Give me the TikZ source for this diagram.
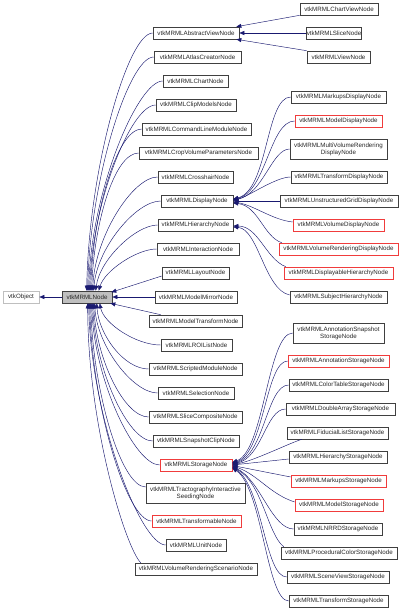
\documentclass[tikz,border=0pt]{standalone}
\usepackage{fontspec}
\setmainfont{Liberation Sans}
\usetikzlibrary{arrows.meta}
\definecolor{edgec}{HTML}{191970}
\definecolor{boxc}{HTML}{404040}
\definecolor{redc}{HTML}{F03C3C}
\definecolor{grayfill}{HTML}{BFBFBF}
\tikzset{
  box/.style={draw=boxc, line width=0.6pt, inner sep=0pt, font=\fontsize{6.2}{7}\selectfont, align=center, text=black!85},
  redbox/.style={box, draw=redc},
  graybox/.style={box, draw=grayfill},
  basebox/.style={box, fill=grayfill},
  edge/.style={draw=edgec, line width=0.45pt, -{Triangle[length=5pt,width=4pt]}},
}
\newcommand\bx[7]{\node[#7, minimum width={(#4-#2)*1pt}, minimum height={(#5-#3)*1pt}] (#1) at ({(#2+#4)/2},{(#3+#5)/2}) {#6};}
\newcommand\ed[4]{\draw[edge] (#1) .. controls +(#2) and +(#3) .. (#4);}
\begin{document}
\begin{tikzpicture}[x=1pt,y=-1pt]
\useasboundingbox (0,0) rectangle (400,611);
% left part
\bx{obj}{3}{291}{39}{303}{vtkObject}{graybox}
\bx{mrml}{62}{291}{112}{303}{vtkMRMLNode}{basebox}
% middle column
\bx{absview}{153}{27}{239}{39}{vtkMRMLAbstractViewNode}{box}
\bx{atlas}{154}{51}{241}{63}{vtkMRMLAtlasCreatorNode}{box}
\bx{chart}{163}{75}{228}{87}{vtkMRMLChartNode}{box}
\bx{clip}{156}{99}{236}{111}{vtkMRMLClipModelsNode}{box}
\bx{cmd}{142}{123}{251}{135}{vtkMRMLCommandLineModuleNode}{box}
\bx{crop}{139}{147}{258}{159}{vtkMRMLCropVolumeParametersNode}{box}
\bx{cross}{158}{171}{233}{183}{vtkMRMLCrosshairNode}{box}
\bx{disp}{161}{195}{233}{207}{vtkMRMLDisplayNode}{box}
\bx{hier}{158}{219}{233}{231}{vtkMRMLHierarchyNode}{box}
\bx{inter}{157}{243}{239}{255}{vtkMRMLInteractionNode}{box}
\bx{layout}{162}{267}{229}{279}{vtkMRMLLayoutNode}{box}
\bx{mirror}{155}{291}{237}{303}{vtkMRMLModelMirrorNode}{box}
\bx{mtrans}{149}{315}{242}{327}{vtkMRMLModelTransformNode}{box}
\bx{roi}{161}{339}{232}{351}{vtkMRMLROIListNode}{box}
\bx{script}{149}{363}{242}{375}{vtkMRMLScriptedModuleNode}{box}
\bx{sel}{158}{387}{234}{399}{vtkMRMLSelectionNode}{box}
\bx{slicecomp}{149}{411}{242}{423}{vtkMRMLSliceCompositeNode}{box}
\bx{snap}{153}{435}{239}{447}{vtkMRMLSnapshotClipNode}{box}
\bx{stor}{160}{459}{232}{471}{vtkMRMLStorageNode}{redbox}
\bx{tract}{146}{483}{245}{503}{vtkMRMLTractographyInteractive\\SeedingNode}{box}
\bx{transf}{152}{515}{241}{527}{vtkMRMLTransformableNode}{redbox}
\bx{unit}{166}{539}{226}{551}{vtkMRMLUnitNode}{box}
\bx{vrs}{135}{563}{257}{575}{vtkMRMLVolumeRenderingScenarioNode}{box}
% view children
\bx{chartview}{300}{3}{378}{15}{vtkMRMLChartViewNode}{box}
\bx{sliceN}{307}{27}{361}{39}{vtkMRMLSliceNode}{box}
\bx{viewN}{307}{51}{370}{63}{vtkMRMLViewNode}{box}
% display children
\bx{mkdisp}{291}{91}{386}{103}{vtkMRMLMarkupsDisplayNode}{box}
\bx{moddisp}{295}{115}{382}{127}{vtkMRMLModelDisplayNode}{redbox}
\bx{mvr}{290}{139}{387}{159}{vtkMRMLMultiVolumeRendering\\DisplayNode}{box}
\bx{trdisp}{291}{171}{387}{183}{vtkMRMLTransformDisplayNode}{box}
\bx{ugdisp}{280}{195}{398}{207}{vtkMRMLUnstructuredGridDisplayNode}{box}
\bx{voldisp}{293}{219}{384}{231}{vtkMRMLVolumeDisplayNode}{redbox}
\bx{vrdisp}{279}{243}{398}{255}{vtkMRMLVolumeRenderingDisplayNode}{redbox}
\bx{dhier}{284}{267}{393}{279}{vtkMRMLDisplayableHierarchyNode}{redbox}
\bx{shier}{290}{291}{387}{303}{vtkMRMLSubjectHierarchyNode}{box}
% storage children
\bx{annsnap}{293}{323}{384}{343}{vtkMRMLAnnotationSnapshot\\StorageNode}{box}
\bx{annstor}{288}{355}{389}{367}{vtkMRMLAnnotationStorageNode}{redbox}
\bx{ctstor}{289}{379}{388}{391}{vtkMRMLColorTableStorageNode}{box}
\bx{dastor}{286}{403}{395}{415}{vtkMRMLDoubleArrayStorageNode}{box}
\bx{flstor}{287}{427}{388}{439}{vtkMRMLFiducialListStorageNode}{box}
\bx{hstor}{289}{451}{387}{463}{vtkMRMLHierarchyStorageNode}{box}
\bx{mkstor}{291}{475}{386}{487}{vtkMRMLMarkupsStorageNode}{redbox}
\bx{modstor}{295}{499}{383}{511}{vtkMRMLModelStorageNode}{redbox}
\bx{nrrd}{294}{523}{382}{535}{vtkMRMLNRRDStorageNode}{box}
\bx{proc}{281}{547}{397}{559}{vtkMRMLProceduralColorStorageNode}{box}
\bx{svstor}{287}{571}{389}{583}{vtkMRMLSceneViewStorageNode}{box}
\bx{trstor}{289}{595}{388}{607}{vtkMRMLTransformStorageNode}{box}
% edges
\draw[edge] (mrml.west) -- (obj.east);
\draw[edge] (chartview.south west) -- ([xshift=-3pt]absview.north east);
\draw[edge] (sliceN.west) -- (absview.east);
\draw[edge] (viewN.north west) -- ([xshift=-3pt]absview.south east);
% upper children of vtkMRMLNode
\ed{absview.west}{-25,0}{2,-121}{[xshift=25pt]mrml.north west}
\ed{atlas.west}{-25,0}{2,-110}{[xshift=26pt]mrml.north west}
\ed{chart.west}{-25,0}{2,-99}{[xshift=27pt]mrml.north west}
\ed{clip.west}{-25,0}{2,-87}{[xshift=28pt]mrml.north west}
\ed{cmd.west}{-25,0}{2,-76}{[xshift=29pt]mrml.north west}
\ed{crop.west}{-25,0}{2,-65}{[xshift=30pt]mrml.north west}
\ed{cross.west}{-25,0}{2,-54}{[xshift=31pt]mrml.north west}
\ed{disp.west}{-25,0}{3,-42}{[xshift=32pt]mrml.north west}
\ed{hier.west}{-22,0}{4,-31}{[xshift=34pt]mrml.north west}
\ed{inter.west}{-20,0}{6,-20}{[xshift=37pt]mrml.north west}
\draw[edge] ([yshift=-3pt]layout.west) -- ([xshift=-1pt,yshift=-1.5pt]mrml.north east);
\draw[edge] (mirror.west) -- (mrml.east);
% lower children of vtkMRMLNode
\draw[edge] ([xshift=12pt]mtrans.north west) -- ([xshift=-2pt]mrml.south east);
\ed{roi.west}{-25,0}{4,20}{[xshift=38pt]mrml.south west}
\ed{script.west}{-25,0}{2,31}{[xshift=35pt]mrml.south west}
\ed{sel.west}{-25,0}{2,42}{[xshift=33pt]mrml.south west}
\ed{slicecomp.west}{-25,0}{2,54}{[xshift=32pt]mrml.south west}
\ed{snap.west}{-25,0}{2,65}{[xshift=31pt]mrml.south west}
\ed{stor.west}{-25,0}{2,76}{[xshift=30pt]mrml.south west}
\ed{[yshift=6pt]tract.west}{-25,0}{2,86}{[xshift=29pt]mrml.south west}
\ed{transf.west}{-25,0}{2,102}{[xshift=28pt]mrml.south west}
\ed{unit.west}{-25,0}{2,114}{[xshift=27pt]mrml.south west}
\ed{[xshift=6pt]vrs.north west}{-15,-15}{0,122}{[xshift=26pt]mrml.south west}
% display children
\ed{mkdisp.west}{-25,0}{35,-9}{[yshift=2pt]disp.east}
\ed{moddisp.west}{-25,0}{33,-8}{[yshift=1.5pt]disp.east}
\ed{mvr.west}{-18,0}{30,-6}{[yshift=1pt]disp.east}
\ed{trdisp.west}{-15,0}{15,-4}{[yshift=0.5pt]disp.east}
\draw[edge] (ugdisp.west) -- (disp.east);
\ed{[yshift=3pt]voldisp.west}{-20,-2}{20,3}{[yshift=-1pt]disp.east}
\ed{[xshift=3pt]vrdisp.north west}{-18,-6}{25,3}{[yshift=-2pt]disp.east}
% hierarchy children
\ed{[xshift=2pt]dhier.north west}{-20,-8}{25,0}{[yshift=-1pt]hier.east}
\ed{[yshift=2pt]shier.west}{-25,-5}{25,2}{[yshift=-2pt]hier.east}
% storage children
\ed{annsnap.west}{-25,0}{32,-12}{[yshift=2.5pt]stor.east}
\ed{annstor.west}{-22,0}{32,-10}{[yshift=2pt]stor.east}
\ed{ctstor.west}{-22,0}{32,-8}{[yshift=1.5pt]stor.east}
\ed{dastor.west}{-20,0}{30,-6}{[yshift=1pt]stor.east}
\ed{[xshift=15pt]flstor.south west}{-15,5}{20,-3}{[yshift=0.5pt]stor.east}
\draw[edge] ([yshift=-2pt]hstor.west) -- (stor.east);
\draw[edge] ([yshift=4pt]mkstor.west) -- ([yshift=-0.5pt]stor.east);
\ed{[yshift=3pt]modstor.west}{-25,-8}{25,8}{[yshift=-1pt]stor.east}
\ed{nrrd.west}{-22,0}{28,13}{[yshift=-1.5pt]stor.east}
\ed{[xshift=3pt]proc.north west}{-16,-12}{30,15}{[yshift=-2pt]stor.east}
\ed{svstor.west}{-22,0}{30,18}{[yshift=-2.5pt]stor.east}
\ed{trstor.west}{-22,0}{30,20}{[yshift=-3pt]stor.east}
\end{tikzpicture}
\end{document}
